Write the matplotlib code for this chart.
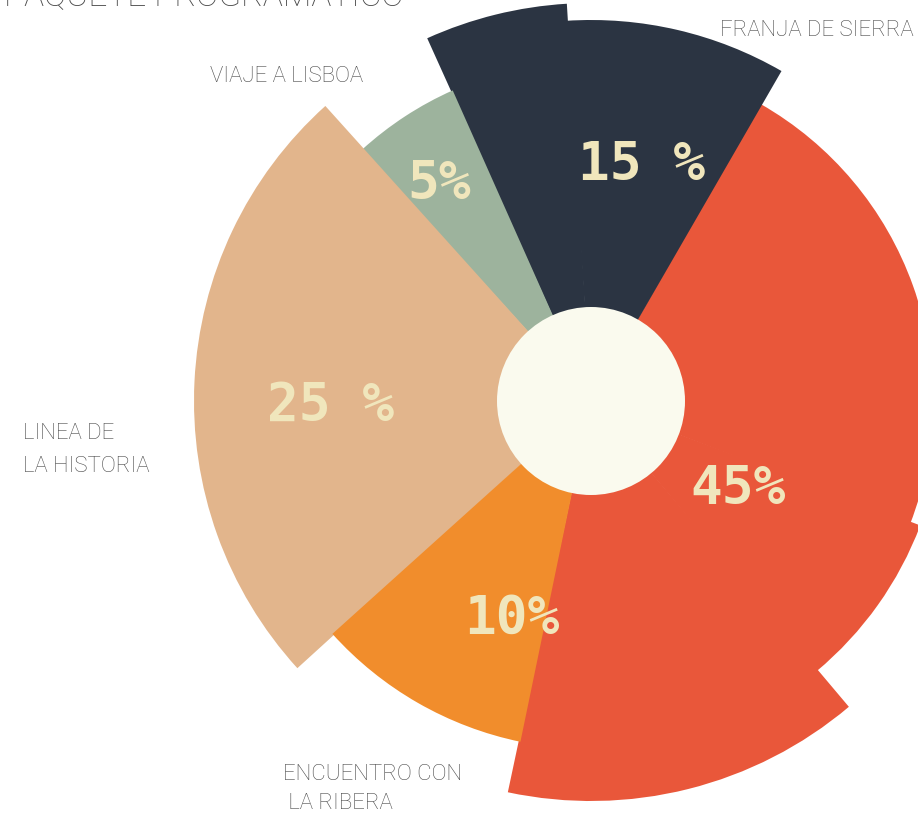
import matplotlib
matplotlib.use("Agg")
import matplotlib.pyplot as plt
from matplotlib.patches import Wedge, Circle
import numpy as np

# --- data -------------------------------------------------------------
# slices in counter-clockwise order, starting at the bottom of the ring
slice_keys = ["red", "navy", "sage", "tan", "orange"]
values = [45, 15, 5, 25, 10]
value_labels = ["45%", "15 %", "5%", "25 %", "10%"]
category_labels = ["FRANJA DE SIERRA", "VIAJE A LISBOA", "LINEA DE\nLA HISTORIA",
                   "ENCUENTRO CON\n LA RIBERA"]
title = "PAQUETE PROGRAMATICO"

# --- style --------------------------------------------------------------
colors = {"red": "#e9573a", "navy": "#2b3442", "sage": "#9db39d",
          "tan": "#e2b58c", "orange": "#f18d2c"}
# outer radius profile of each slice: (share of the slice's angle, radius)
radius_steps = {
    "red": [(0.32, 400), (0.18, 352), (0.50, 342)],
    "navy": [(0.62, 381), (0.38, 398)],
    "sage": [(1.0, 340)],
    "tan": [(1.0, 397)],
    "orange": [(1.0, 348)],
}
# value label placement (angle in degrees, distance from centre)
label_polar = {"red": (-31, 171), "navy": (78, 241), "sage": (125, 265),
               "tan": (181, 261), "orange": (250, 232)}

W, H = 918, 813
center = (591, H - 401)
hole_r = 94
start_angle = 258
pct_color = "#f0e6bc"
text_color = "#4a4a4a"
label_font = ["Roboto", "DejaVu Sans"]

fig = plt.figure(figsize=(W / 100, H / 100), dpi=100)
fig.patch.set_facecolor("white")
ax = fig.add_axes([0, 0, 1, 1])
ax.set_xlim(0, W)
ax.set_ylim(0, H)
ax.set_aspect("equal")
ax.axis("off")

total = float(sum(values))
theta = start_angle
for key, val, lab in zip(slice_keys, values, value_labels):
    span = 360.0 * val / total
    a = theta
    for share, r in radius_steps[key]:
        b = a + span * share
        ax.add_patch(Wedge(center, r, a, b + 0.3, facecolor=colors[key],
                           edgecolor="none", antialiased=True))
        a = b
    ang, dist = label_polar[key]
    x = center[0] + dist * np.cos(np.radians(ang))
    y = center[1] + dist * np.sin(np.radians(ang))
    ax.text(x, y, lab, ha="center", va="center", color=pct_color,
            fontsize=38, fontweight="bold", family=["DejaVu Sans Mono", "DejaVu Sans"])
    theta += span

ax.add_patch(Circle(center, hole_r, facecolor="#fafaee", edgecolor="none"))

# category labels
cat_kw = dict(color=text_color, family=label_font, fontsize=16,
              fontweight="light", va="baseline")
ax.text(914, H - 36, category_labels[0], ha="right", **cat_kw)
ax.text(210, H - 82, category_labels[1], ha="left", **cat_kw)
ax.text(23, H - 472, category_labels[2], ha="left", linespacing=1.75, **cat_kw)
ax.text(283, H - 809, category_labels[3], ha="left", linespacing=1.5, **cat_kw)
ax.text(4, H - 5, title, color=text_color, family=label_font,
        fontsize=24, fontweight="light", ha="left", va="baseline")

fig.savefig("out.png", dpi=100, facecolor="white")
